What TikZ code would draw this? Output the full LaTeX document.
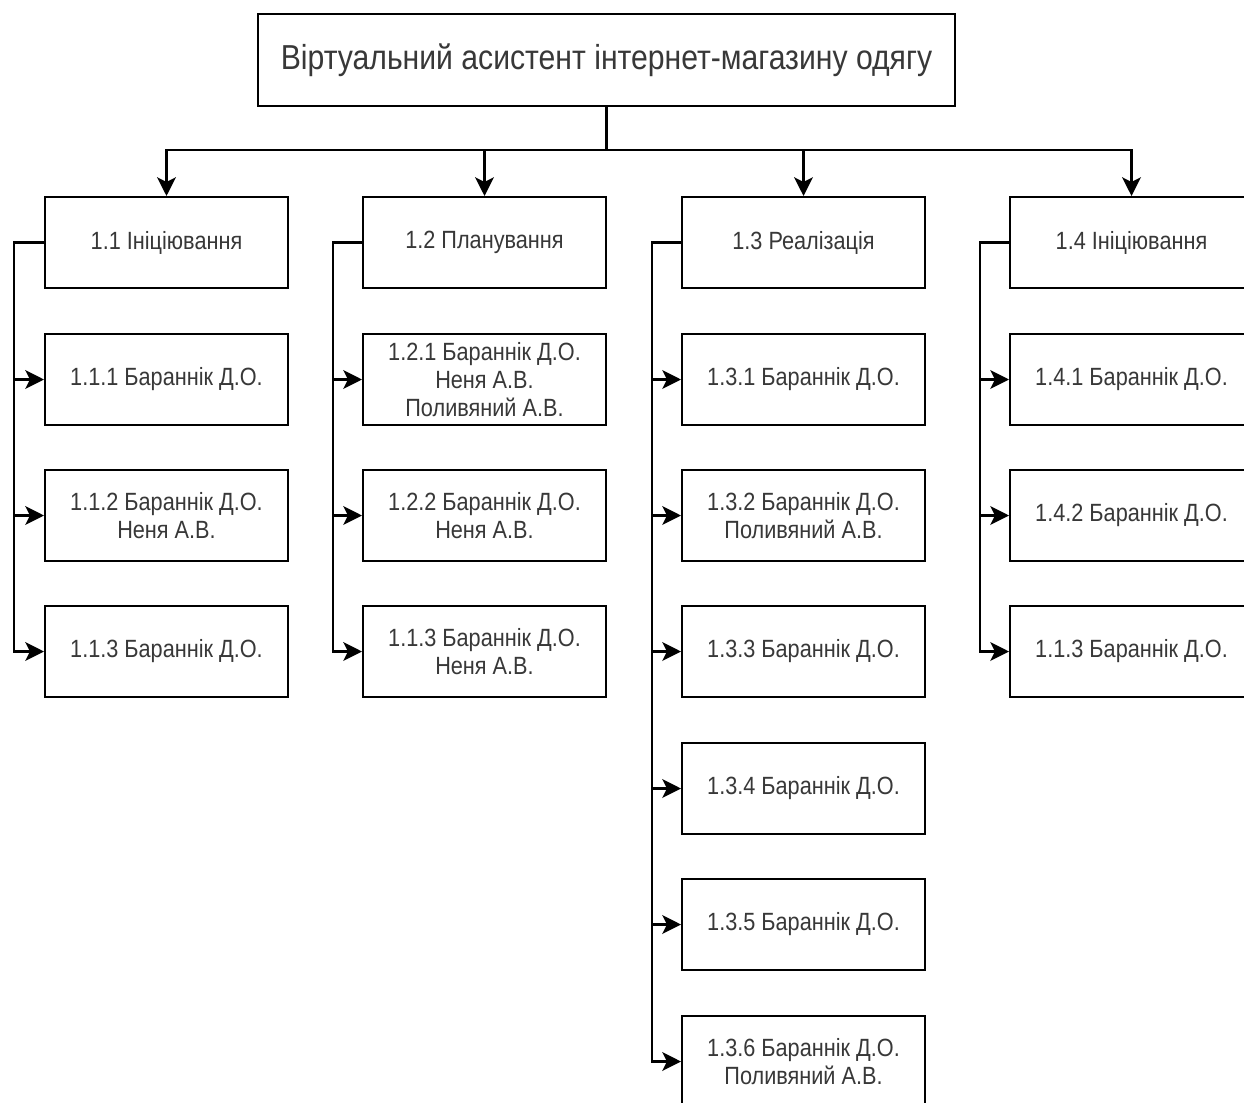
\documentclass[tikz,border=0pt]{standalone}
\usepackage{fontspec}
\setmainfont{Liberation Sans}[FakeStretch=0.87]
\usetikzlibrary{arrows.meta}
\begin{document}
\begin{tikzpicture}[x=0.75pt,y=-0.75pt,
  box/.style={draw=black, line width=1.5pt, fill=white, align=center,
    minimum width=182.25pt, minimum height=68.25pt, inner sep=0pt,
    text=black!78, font=\fontsize{18.7pt}{21pt}\selectfont},
  rootbox/.style={box, minimum width=522.75pt, minimum height=69pt,
    font=\fontsize{26pt}{30pt}\selectfont},
  conn/.style={draw=black, line width=2.2pt,
    -{Stealth[length=14pt, width=14pt, inset=3.5pt]}},
  bus/.style={draw=black, line width=2.2pt}]
\useasboundingbox (0,0) rectangle (1244,1102);
\clip (0,0) rectangle (1244,1102);

% root
\node[rootbox] (root) at (606.5,60) {Віртуальний асистент інтернет-магазину одягу};

% first level
\node[box] (h1) at (166.5,242.5) {1.1 Ініціювання};
\node[box] (h2) at (484.5,242.5) {1.2 Планування};
\node[box] (h3) at (803.5,242.5) {1.3 Реалізація};
\node[box] (h4) at (1131.5,242.5) {1.4 Ініціювання};

% column 1.1
\node[box] (a1) at (166.5,379.5) {1.1.1 Бараннік Д.О.};
\node[box] (a2) at (166.5,515.5) {1.1.2 Бараннік Д.О.\\Неня А.В.};
\node[box] (a3) at (166.5,651.5) {1.1.3 Бараннік Д.О.};

% column 1.2
\node[box] (b1) at (484.5,379.5) {1.2.1 Бараннік Д.О.\\Неня А.В.\\Поливяний А.В.};
\node[box] (b2) at (484.5,515.5) {1.2.2 Бараннік Д.О.\\Неня А.В.};
\node[box] (b3) at (484.5,651.5) {1.1.3 Бараннік Д.О.\\Неня А.В.};

% column 1.3
\node[box] (c1) at (803.5,379.5) {1.3.1 Бараннік Д.О.};
\node[box] (c2) at (803.5,515.5) {1.3.2 Бараннік Д.О.\\Поливяний А.В.};
\node[box] (c3) at (803.5,651.5) {1.3.3 Бараннік Д.О.};
\node[box] (c4) at (803.5,788.5) {1.3.4 Бараннік Д.О.};
\node[box] (c5) at (803.5,924.5) {1.3.5 Бараннік Д.О.};
\node[box] (c6) at (803.5,1061.5) {1.3.6 Бараннік Д.О.\\Поливяний А.В.};

% column 1.4
\node[box] (d1) at (1131.5,379.5) {1.4.1 Бараннік Д.О.};
\node[box] (d2) at (1131.5,515.5) {1.4.2 Бараннік Д.О.};
\node[box] (d3) at (1131.5,651.5) {1.1.3 Бараннік Д.О.};

% root to first level
\coordinate (bus) at (606.5,150);
\draw[bus] (root.south) -- (bus);
\foreach \h in {h1,h2,h3,h4}
  \draw[conn] (bus) -| (\h.north);

% spines
\coordinate (s1) at (14,242.5);
\coordinate (s2) at (333,242.5);
\coordinate (s3) at (652,242.5);
\coordinate (s4) at (980,242.5);
\foreach \c in {a1,a2,a3} \draw[conn] (h1.west) -- (s1) |- (\c.west);
\foreach \c in {b1,b2,b3} \draw[conn] (h2.west) -- (s2) |- (\c.west);
\foreach \c in {c1,c2,c3,c4,c5,c6} \draw[conn] (h3.west) -- (s3) |- (\c.west);
\foreach \c in {d1,d2,d3} \draw[conn] (h4.west) -- (s4) |- (\c.west);
\end{tikzpicture}
\end{document}
